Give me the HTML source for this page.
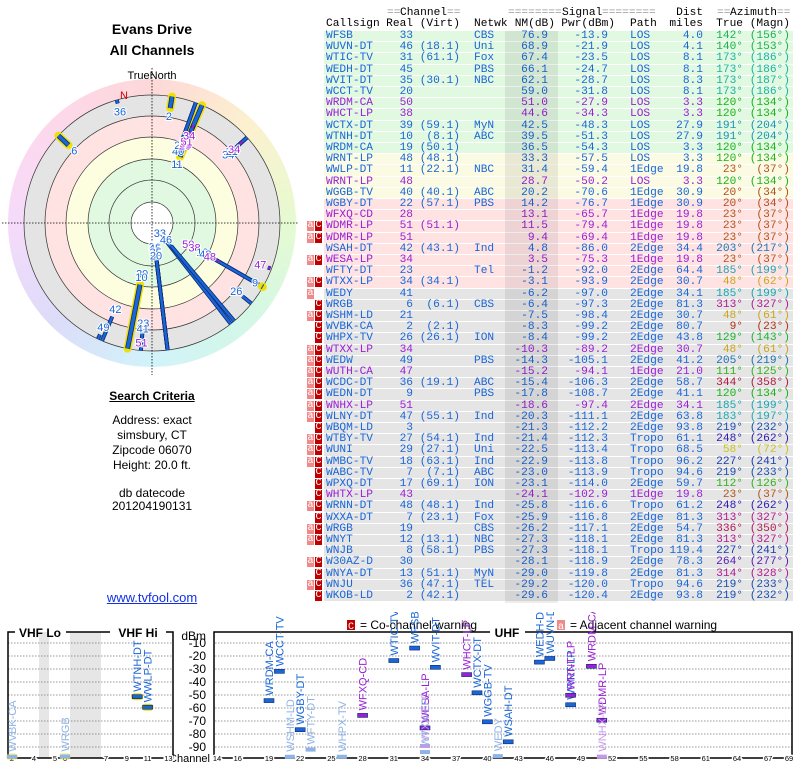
<!DOCTYPE html>
<html><head><meta charset="utf-8">
<style>
body{margin:0;background:#fff;width:800px;height:768px;overflow:hidden;position:relative;font-family:"Liberation Sans",sans-serif}
.abs{position:absolute;white-space:pre}
.mono{font-family:"Liberation Mono",monospace;font-size:11.2px;line-height:11.2px}
.row{position:absolute;left:324px;width:469px;height:10.2px;border-bottom:1px solid #fff}
.c{position:absolute;top:0}
.r{position:absolute;top:0;text-align:right}
.bdg{position:absolute;width:7px;height:10px;color:#fff;font-size:10px;line-height:10px;text-align:center;font-family:"Liberation Mono",monospace}
.ctr{position:absolute;left:0;width:304px;text-align:center}
</style></head><body>
<div class="ctr" style="top:21px;font-size:14px;font-weight:bold">Evans Drive</div>
<div class="ctr" style="top:42px;font-size:14px;font-weight:bold">All Channels</div>
<div class="ctr" style="top:389px;font-size:12px;font-weight:bold;text-decoration:underline">Search Criteria</div>
<div class="ctr" style="top:413px;font-size:12px;line-height:15px">Address: exact<br>simsbury, CT<br>Zipcode 06070<br>Height: 20.0 ft.</div>
<div class="ctr" style="top:487px;font-size:12px;line-height:13px">db datecode<br>201204190131</div>
<div class="ctr" style="top:590px;font-size:13px;color:#1030e0;text-decoration:underline">www.tvfool.com</div>

<svg id="radar" class="abs" style="left:0;top:60px" width="304" height="315"></svg>
<div id="table"></div>
<svg id="spec" class="abs" style="left:0;top:612px" width="800" height="156"></svg>

<script>
// ---------- table data ----------
const warns=["","","","","","","","","","","","","","","","","","aC","aC","","aC","","aC","a","C","aC","C","C","aC","aC","aC","aC","aC","aC","aC","C","aC","aC","aC","C","C","C","aC","C","aC","aC","","aC","C","aC","C"];
const calls=["WFSB","WUVN-DT","WTIC-TV","WEDH-DT","WVIT-DT","WCCT-TV","WRDM-CA","WHCT-LP","WCTX-DT","WTNH-DT","WRDM-CA","WRNT-LP","WWLP-DT","WRNT-LP","WGGB-TV","WGBY-DT","WFXQ-CD","WDMR-LP","WDMR-LP","WSAH-DT","WESA-LP","WFTY-DT","WTXX-LP","WEDY","WRGB","WSHM-LD","WVBK-CA","WHPX-TV","WTXX-LP","WEDW","WUTH-CA","WCDC-DT","WEDN-DT","WNHX-LP","WLNY-DT","WBQM-LD","WTBY-TV","WUNI","WMBC-TV","WABC-TV","WPXQ-DT","WHTX-LP","WRNN-DT","WXXA-DT","WRGB","WNYT","WNJB","W30AZ-D","WNYA-DT","WNJU","WKOB-LD"];
const reals=[33,46,31,45,35,20,50,38,39,10,19,48,11,48,40,22,28,51,51,42,34,23,34,41,6,21,2,26,34,49,47,36,9,51,47,3,27,29,18,7,17,43,48,7,19,12,8,30,13,36,2];
const virts=["","(18.1)","(61.1)","","(30.1)","","","","(59.1)","(8.1)","(50.1)","(48.1)","(22.1)","","(40.1)","(57.1)","","(51.1)","","(43.1)","","","(34.1)","","(6.1)","","(2.1)","(26.1)","","","","(19.1)","","","(55.1)","","(54.1)","(27.1)","(63.1)","(7.1)","(69.1)","","(48.1)","(23.1)","","(13.1)","(58.1)","","(51.1)","(47.1)","(42.1)"];
const nets=["CBS","Uni","Fox","PBS","NBC","","","","MyN","ABC","","","NBC","","ABC","PBS","","","","Ind","","Tel","","","CBS","","","ION","","PBS","","ABC","PBS","","Ind","","Ind","Uni","Ind","ABC","ION","","Ind","Fox","CBS","NBC","PBS","","MyN","TEL",""];
const nms=[76.9,68.9,67.4,66.1,62.1,59.0,51.0,44.6,42.5,39.5,36.5,33.3,31.4,28.7,20.2,14.2,13.1,11.5,9.4,4.8,3.5,-1.2,-3.1,-6.2,-6.4,-7.5,-8.3,-8.4,-10.3,-14.3,-15.2,-15.4,-17.8,-18.6,-20.3,-21.3,-21.4,-22.5,-22.9,-23.0,-23.1,-24.1,-25.8,-25.9,-26.2,-27.3,-27.3,-28.1,-29.0,-29.2,-29.6];
const pwrs=[-13.9,-21.9,-23.5,-24.7,-28.7,-31.8,-27.9,-34.3,-48.3,-51.3,-54.3,-57.5,-59.4,-50.2,-70.6,-76.7,-65.7,-79.4,-69.4,-86.0,-75.3,-92.0,-93.9,-97.0,-97.3,-98.4,-99.2,-99.2,-89.2,-105.1,-94.1,-106.3,-108.7,-97.4,-111.1,-112.2,-112.3,-113.4,-113.8,-113.9,-114.0,-102.9,-116.6,-116.8,-117.1,-118.1,-118.1,-118.9,-119.8,-120.0,-120.4];
const paths=["LOS","LOS","LOS","LOS","LOS","LOS","LOS","LOS","LOS","LOS","LOS","LOS","1Edge","LOS","1Edge","1Edge","1Edge","1Edge","1Edge","2Edge","1Edge","2Edge","2Edge","2Edge","2Edge","2Edge","2Edge","2Edge","2Edge","2Edge","1Edge","2Edge","2Edge","2Edge","2Edge","2Edge","Tropo","Tropo","Tropo","Tropo","2Edge","1Edge","Tropo","2Edge","2Edge","2Edge","Tropo","2Edge","2Edge","Tropo","2Edge"];
const dists=[4.0,4.1,8.1,8.1,8.3,8.1,3.3,3.3,27.9,27.9,3.3,3.3,19.8,3.3,30.9,30.9,19.8,19.8,19.8,34.4,19.8,64.4,30.7,34.1,81.3,30.7,80.7,43.8,30.7,41.2,21.0,58.7,41.1,34.1,63.8,93.8,61.1,68.5,96.2,94.6,59.7,19.8,61.2,81.3,54.7,81.3,119.4,78.3,81.3,94.6,93.8];
const azT=[142,140,173,173,173,173,120,120,191,191,120,120,23,120,20,20,23,23,23,203,23,185,48,185,313,48,9,129,48,205,111,344,120,185,183,219,248,58,227,219,112,23,248,313,336,313,227,264,314,219,219];
const azM=[156,153,186,186,187,186,134,134,204,204,134,134,37,134,34,34,37,37,37,217,37,199,62,199,327,61,23,143,61,219,125,358,134,199,197,232,262,72,241,233,126,37,262,327,350,327,241,277,328,233,232];
const purples=[6,7,13,16,17,18,20,28,30,33,41];

const BLUE='#1a66d8',PURP='#9a1fd6';
function rowBg(i){return i<11?'#e1f8e1':i<15?'#fbfbe3':i<23?'#ffe3e3':'#e5e5e5';}
function azCol(a){return 'hsl('+a+',75%,'+(a>30&&a<90?'45%':'40%')+')';}
const T=document.getElementById('table');
function hdr(txt,x,y,al,col){const d=document.createElement('div');d.className='abs mono';d.style.top=y+'px';
 if(al==='r'){d.style.right=(800-x)+'px';}else d.style.left=x+'px';
 d.style.color=col||'#000';d.textContent=txt;
 
 
 document.body.appendChild(d);}
hdr('==',387,8,'l','#999');hdr('Channel',400,8);hdr('==',447,8,'l','#999');
hdr('========',508,8,'l','#999');hdr('Signal',562,8);hdr('========',602,8,'l','#999');
hdr('Dist',703,8,'r');hdr('==',717,8,'l','#999');hdr('Azimuth',730,8);hdr('==',777,8,'l','#999');
hdr('Callsign',326,19);hdr('Real',413,19,'r');hdr('(Virt)',460,19,'r');hdr('Netwk',474,19);
hdr('NM(dB)',555,19,'r');hdr('Pwr(dBm)',615,19,'r');hdr('Path',630,19);hdr('miles',703,19,'r');hdr('True',743,19,'r');hdr('(Magn)',790,19,'r');
const shade=document.createElement('div');shade.className='abs';
shade.style.cssText='left:505px;top:31px;width:53px;height:572px;background:rgba(0,0,0,0.07);z-index:2';


document.body.appendChild(shade);
for(let i=0;i<calls.length;i++){
 const y=31+i*11.2;
 const row=document.createElement('div');row.className='row mono';
 row.style.top=y+'px';row.style.background=rowBg(i);
 const col=purples.includes(i)?PURP:BLUE;row.style.color=col;
 
 
 const ac=azCol(azT[i]);
 const cells=[[calls[i],2,'c'],[String(reals[i]),89,'r'],[virts[i],136,'r'],[nets[i],150,'c'],[nms[i].toFixed(1),224,'r'],[pwrs[i].toFixed(1),284,'r'],[paths[i],306,'c'],[dists[i].toFixed(1),379,'r'],[azT[i]+'°',419,'r',ac],[' ('+azM[i]+'°)',466,'r',ac]];
 cells.forEach(c=>{const s=document.createElement('span');s.className=c[2];s.textContent=c[0];
  if(c[2]==='r'){s.style.right=(469-c[1])+'px';}else s.style.left=c[1]+'px';
  if(c[3])s.style.color=c[3];
  T.appendChild(row);row.appendChild(s);});
 const w=warns[i];
 if(w.includes('a')){const b=document.createElement('div');b.className='bdg';b.style.left='307px';b.style.top=y+'px';b.style.background='#f08a8a';b.textContent='a';
  
  
  document.body.appendChild(b);}
 if(w.includes('C')){const b=document.createElement('div');b.className='bdg';b.style.left='315px';b.style.top=y+'px';b.style.background='#c00000';b.textContent='C';
  
  
  document.body.appendChild(b);}
}

// ---------- radar ----------
const NS='http://www.w3.org/2000/svg';
const R=document.getElementById('radar');
const cx=152,cy=163;
function el(p,tag,at){const e=document.createElementNS(NS,tag);for(const k in at)e.setAttribute(k,at[k]);p.appendChild(e);return e;}
R.innerHTML='<defs></defs>';
const fo=el(R,'foreignObject',{x:cx-144,y:cy-144,width:288,height:288});


const ring=document.createElement('div');
ring.style.cssText='width:288px;height:288px;border-radius:50%;background:conic-gradient(hsl(0,90%,92%),hsl(45,90%,90%),hsl(90,80%,90%),hsl(150,70%,90%),hsl(190,80%,90%),hsl(240,70%,92%),hsl(290,80%,92%),hsl(330,90%,92%),hsl(360,90%,92%))';
fo.appendChild(ring);
const bands=[[128,'#e4e4e4'],[107,'#ffe2e2'],[86,'#fdfde0'],[64,'#e0f9e0'],[21,'#ffffff']];
bands.forEach(b=>{const c=el(R,'circle',{cx:cx,cy:cy,r:b[0],fill:b[1],stroke:'#333','stroke-width':0.7});
 
 });
[43].forEach(r=>{const c=el(R,'circle',{cx:cx,cy:cy,r:r,fill:'none',stroke:'#333','stroke-width':0.7});
 
 });
const ax1=el(R,'line',{x1:2,y1:cy,x2:298,y2:cy,stroke:'#000','stroke-dasharray':'1.5,1.5','stroke-width':0.8});


const ax2=el(R,'line',{x1:cx,y1:8,x2:cx,y2:315,stroke:'#000','stroke-dasharray':'1.5,1.5','stroke-width':0.8});


const tn=el(R,'text',{x:cx,y:19,'text-anchor':'middle','font-size':11,'font-family':'Liberation Sans'});tn.textContent='TrueNorth';


const nl=el(R,'text',{x:124,y:39,'text-anchor':'middle','font-size':11,fill:'#d00000','font-family':'Liberation Sans'});nl.textContent='N';


function rad(nm){return Math.max(18,Math.min(126,105-nm*1.12));}
function pt(az,r){const a=az*Math.PI/180;return [cx+r*Math.sin(a),cy-r*Math.cos(a)];}
for(let i=0;i<calls.length;i++){
 if(nms[i]<-19)continue;
 const r=rad(nms[i]);const pur=purples.includes(i);const col=pur?PURP:BLUE;
 const r2=pur?Math.min(128,r+5):128;
 const p1=pt(azT[i],r+2),p2=pt(azT[i],r2);
 if(reals[i]<14){const h=el(R,'line',{x1:p1[0],y1:p1[1],x2:p2[0],y2:p2[1],stroke:'#f0e000','stroke-width':8,'stroke-linecap':'round'});
  
  }
 const o=el(R,'line',{x1:p1[0],y1:p1[1],x2:p2[0],y2:p2[1],stroke:'#0a2a70','stroke-width':reals[i]<14?5:4});
 
 
 const b=el(R,'line',{x1:p1[0],y1:p1[1],x2:p2[0],y2:p2[1],stroke:col,'stroke-width':reals[i]<14?3.5:2.4});
 
 
 const lp=pt(azT[i],r-6);
 const t=el(R,'text',{x:lp[0],y:lp[1]+4,'text-anchor':'middle','font-size':11,fill:col,'font-family':'Liberation Sans',stroke:'#fff','stroke-width':2,'paint-order':'stroke'});
 t.textContent=reals[i];
 
 
}

// ---------- spectrum chart ----------
const specCalls=["WVBK-CA","WRGB","WTNH-DT","WWLP-DT","WRDM-CA","WCCT-TV","WSHM-LD","WGBY-DT","WFTY-DT","WHPX-TV","WFXQ-CD","WTIC-TV","WFSB","WTXX-LP","WESA-LP","WTXX-LP","WVIT-DT","WHCT-LP","WCTX-DT","WGGB-TV","WEDY","WSAH-DT","WEDH-DT","WUVN-DT","WRNT-LP","WRNT-LP","WRDM-CA","WDMR-LP","WNHX-LP"];
const specCh=[2,6,10,11,19,20,21,22,23,26,28,31,33,34,34,34,35,38,39,40,41,42,45,46,48,48,50,51,51];
const specPwr=[-99.2,-97.3,-51.3,-59.4,-54.3,-31.8,-98.4,-76.7,-92.0,-99.2,-65.7,-23.5,-13.9,-89.2,-75.3,-93.9,-28.7,-34.3,-48.3,-70.6,-97.0,-86.0,-24.7,-21.9,-57.5,-50.2,-27.9,-69.4,-97.4];
const specNM=[-8.3,-6.4,39.5,31.4,36.5,59.0,-7.5,14.2,-1.2,-8.4,13.1,67.4,76.9,-10.3,3.5,-3.1,62.1,44.6,42.5,20.2,-6.2,4.8,66.1,68.9,33.3,28.7,51.0,9.4,-18.6];
const specPurple=[false,false,false,false,false,false,false,false,false,false,true,false,false,true,true,false,false,true,false,false,false,false,false,false,false,true,true,true,true];
const dbTicks=[-10,-20,-30,-40,-50,-60,-70,-80,-90];
const vhfTicks=[2,4,5,6,7,9,11,13];
const uhfTicks=[14,16,19,22,25,28,31,34,37,40,43,46,49,52,55,58,61,64,67,69];
const S=document.getElementById('spec');
const OY=612;
function yv(p){return 643-OY+(-10-Math.max(p,-97.5))*1.3;}
const vlo={2:12,3:23,4:34,5:55,6:65};
function xv(ch){if(ch<=6)return vlo[ch];if(ch<=13)return 106+(ch-7)*10.4;return 217+(ch-14)*10.4;}
const yb=758-OY;
// gray bands VHF
[[39,49],[70,101]].forEach(b=>{const r=el(S,'rect',{x:b[0],y:632-OY,width:b[1]-b[0],height:yb-(632-OY),fill:'#e6e6e6'});
 
 });
dbTicks.forEach(d=>{const y=yv(d);
 [[8,172],[215,792]].forEach(s=>{const g=el(S,'line',{x1:s[0],y1:y,x2:s[1],y2:y,stroke:'#777','stroke-dasharray':'1.5,1.5','stroke-width':0.8});
  
  });
 const t=el(S,'text',{x:206,y:y+4,'text-anchor':'end','font-size':12,'font-family':'Liberation Sans'});t.textContent=d;
 
 });
const dbm=el(S,'text',{x:206,y:636-OY+4,'text-anchor':'end','font-size':12,'font-family':'Liberation Sans'});dbm.textContent='dBm';


const chl=el(S,'text',{x:210,y:yb+4,'text-anchor':'end','font-size':11,'font-family':'Liberation Sans'});chl.textContent='Channel';


// panel frames
const f1=el(S,'path',{d:'M8,'+yb+' V'+(632-OY)+' H15 M66,'+(632-OY)+' H110 M166,'+(632-OY)+' H173 V'+yb+' H8',fill:'none',stroke:'#000','stroke-width':1.5});


const f2=el(S,'path',{d:'M214,'+yb+' V'+(632-OY)+' H490 M525,'+(632-OY)+' H792 V'+yb+' H214',fill:'none',stroke:'#000','stroke-width':1.5});


[['VHF Lo',40,'vhf-lo-title'],['VHF Hi',138,'vhf-hi-title'],['UHF',507,'uhf-title']].forEach(a=>{
 const t=el(S,'text',{x:a[1],y:637-OY,'text-anchor':'middle','font-size':12,'font-weight':'bold','font-family':'Liberation Sans'});t.textContent=a[0];
 
 });
vhfTicks.concat(uhfTicks).forEach(c=>{
 const t=el(S,'text',{x:xv(c),y:yb+3,'text-anchor':'middle','font-size':7.5,'font-family':'Liberation Sans',fill:'#000',stroke:'#fff','stroke-width':3,'paint-order':'stroke'});t.textContent=c;
 
 });
// legend
const lg=el(S,'g',{});


el(lg,'rect',{x:347,y:620-OY,width:8,height:10,fill:'#c00000'});
let lt=el(lg,'text',{x:351,y:629-OY,'text-anchor':'middle','font-size':10,fill:'#fff','font-family':'Liberation Mono'});lt.textContent='C';
lt=el(lg,'text',{x:360,y:629-OY,'font-size':12,'font-family':'Liberation Sans'});lt.textContent='= Co-channel warning';
el(lg,'rect',{x:557,y:620-OY,width:8,height:10,fill:'#f08a8a'});
lt=el(lg,'text',{x:561,y:629-OY,'text-anchor':'middle','font-size':10,fill:'#fff','font-family':'Liberation Mono'});lt.textContent='a';
lt=el(lg,'text',{x:570,y:629-OY,'font-size':12,'font-family':'Liberation Sans'});lt.textContent='= Adjacent channel warning';
// marks
for(let i=0;i<specCalls.length;i++){
 const x=xv(specCh[i]),y=yv(specPwr[i]);
 const faded=specNM[i]<0;
 let col=specPurple[i]?PURP:BLUE; if(faded)col=specPurple[i]?'#c49ae8':'#8fb3e6';
 if(specCh[i]<14){const h=el(S,'rect',{x:x-6,y:y-3.5,width:12,height:7,rx:3.5,fill:'#f0e000',opacity:faded?0.4:1});
  
  }
 const m=el(S,'rect',{x:x-5,y:y-2,width:10,height:4,fill:col,stroke:faded?'none':'#0a2a70','stroke-width':0.6});
 
 
 const t=el(S,'text',{x:0,y:0,'font-size':11,fill:col,'font-family':'Liberation Sans',transform:'translate('+(x+4)+','+(y-5)+') rotate(-90)'});
 t.textContent=specCalls[i];
 
 
}
</script>
</body></html>
